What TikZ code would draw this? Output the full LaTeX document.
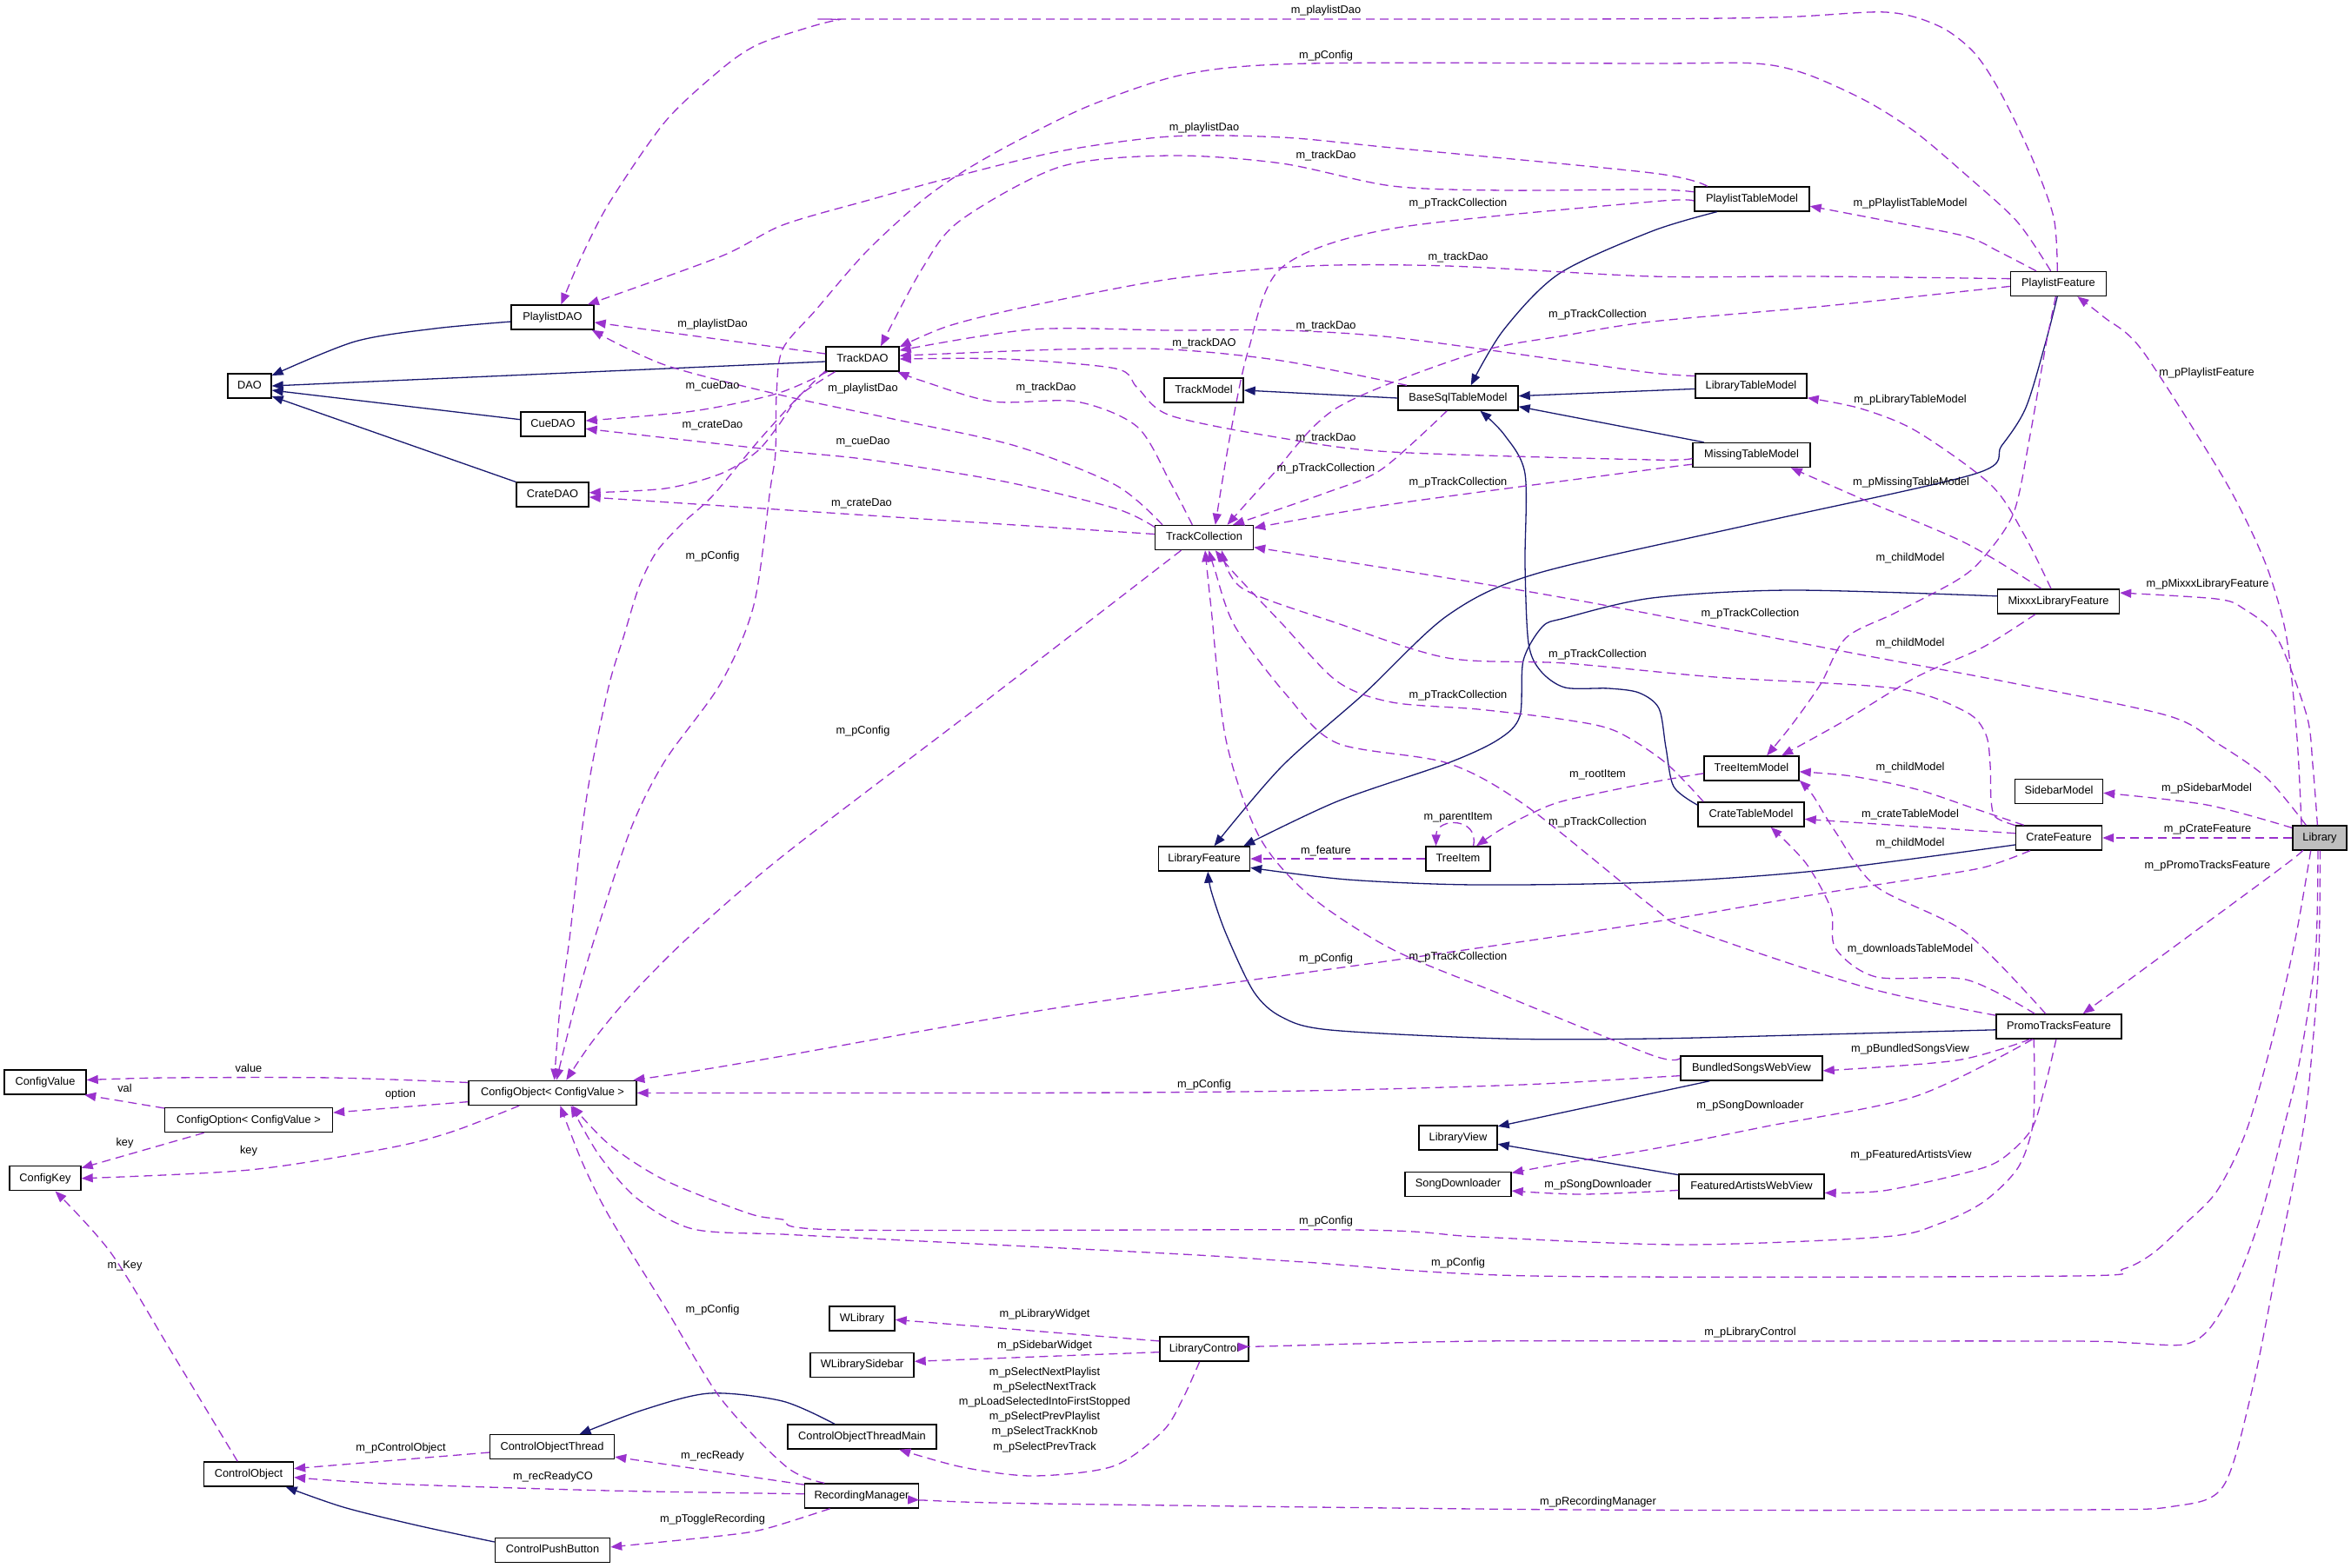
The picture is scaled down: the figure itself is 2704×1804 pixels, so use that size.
\documentclass[tikz,border=0pt]{standalone}
\usepackage{fontspec}
\newfontfamily\dxfont{Liberation Sans}
\newcommand\dxf{\dxfont\fontsize{12.8pt}{17.2pt}\selectfont}
\usetikzlibrary{arrows.meta}
\definecolor{dxnavy}{HTML}{191970}
\definecolor{dxpurp}{HTML}{9A32CD}
\definecolor{dxgray}{HTML}{BFBFBF}
\tikzset{
 dxcls/.style={draw=black, line width=1.4pt, fill=white, minimum height=28pt, inner sep=0pt, text height=9.5pt, text depth=2.7pt, font=\dxf},
 dxinh/.style={draw=dxnavy, line width=1.3pt, -{Triangle[length=13pt,width=10pt]}},
 dxuse/.style={draw=dxpurp, line width=1.3pt, dash pattern=on 10pt off 6pt, -{Triangle[length=13pt,width=10pt]}},
 dxlab/.style={font=\dxf, inner sep=0pt, text height=9.5pt, text depth=2.7pt},
}
\begin{document}
\begin{tikzpicture}[x=1pt,y=-1pt]
\fill[white] (0,0) rectangle (2704,1804);
\useasboundingbox (0,0) rectangle (2704,1804);
% ---------------- nodes
\node[dxcls, minimum width=50pt] (DAO) at (287,444) {DAO};
\node[dxcls, minimum width=95pt] (PlaylistDAO) at (635.5,365) {PlaylistDAO};
\node[dxcls, minimum width=74pt] (CueDAO) at (636,488) {CueDAO};
\node[dxcls, minimum width=83pt] (CrateDAO) at (635.5,569) {CrateDAO};
\node[dxcls, minimum width=84pt] (TrackDAO) at (992,413) {TrackDAO};
\node[dxcls, minimum width=91pt] (TrackModel) at (1384.5,449) {TrackModel};
\node[dxcls, minimum width=138pt] (BaseSql) at (1677,458) {BaseSqlTableModel};
\node[dxcls, minimum width=113pt] (TrackCollection) at (1385,618.5) {TrackCollection};
\node[dxcls, minimum width=132pt] (PlaylistTableModel) at (2015,229) {PlaylistTableModel};
\node[dxcls, minimum width=110pt] (PlaylistFeature) at (2367.5,326.5) {PlaylistFeature};
\node[dxcls, minimum width=128pt] (LibraryTableModel) at (2014,444) {LibraryTableModel};
\node[dxcls, minimum width=135pt] (MissingTableModel) at (2014.5,523.5) {MissingTableModel};
\node[dxcls, minimum width=140pt] (MixxxLibraryFeature) at (2367.5,692) {MixxxLibraryFeature};
\node[dxcls, minimum width=109pt] (TreeItemModel) at (2014.5,884) {TreeItemModel};
\node[dxcls, minimum width=101pt] (SidebarModel) at (2368,910.5) {SidebarModel};
\node[dxcls, minimum width=122pt] (CrateTableModel) at (2014,937) {CrateTableModel};
\node[dxcls, minimum width=99pt] (CrateFeature) at (2368,964) {CrateFeature};
\node[dxcls, minimum width=62pt, fill=dxgray] (Library) at (2668,964) {Library};
\node[dxcls, minimum width=144pt] (PromoTracksFeature) at (2368,1181) {PromoTracksFeature};
\node[dxcls, minimum width=163pt] (BundledSongsWebView) at (2014.5,1229) {BundledSongsWebView};
\node[dxcls, minimum width=105pt] (LibraryFeature) at (1385,988) {LibraryFeature};
\node[dxcls, minimum width=74pt] (TreeItem) at (1677,988) {TreeItem};
\node[dxcls, minimum width=90pt] (LibraryView) at (1677,1309) {LibraryView};
\node[dxcls, minimum width=122pt] (SongDownloader) at (1677,1362.5) {SongDownloader};
\node[dxcls, minimum width=167pt] (FeaturedArtistsWebView) at (2014.5,1365) {FeaturedArtistsWebView};
\node[dxcls, minimum width=75pt] (WLibrary) at (991.5,1517) {WLibrary};
\node[dxcls, minimum width=119pt] (WLibrarySidebar) at (991.5,1570.5) {WLibrarySidebar};
\node[dxcls, minimum width=102pt] (LibraryControl) at (1385,1552) {LibraryControl};
\node[dxcls, minimum width=171pt] (ControlObjectThreadMain) at (991.5,1653) {ControlObjectThreadMain};
\node[dxcls, minimum width=131pt] (RecordingManager) at (991,1721) {RecordingManager};
\node[dxcls, minimum width=94pt] (ConfigValue) at (52,1245) {ConfigValue};
\node[dxcls, minimum width=193pt] (ConfigObject) at (635.5,1257.4) {ConfigObject< ConfigValue >};
\node[dxcls, minimum width=193pt] (ConfigOption) at (286,1288.6) {ConfigOption< ConfigValue >};
\node[dxcls, minimum width=82pt] (ConfigKey) at (52,1355.7) {ConfigKey};
\node[dxcls, minimum width=103pt] (ControlObject) at (286,1696) {ControlObject};
\node[dxcls, minimum width=143pt] (ControlObjectThread) at (635,1664.7) {ControlObjectThread};
\node[dxcls, minimum width=132pt] (ControlPushButton) at (635.5,1783.4) {ControlPushButton};
% ---------------- inheritance
\draw[dxinh] plot[smooth] coordinates {(PlaylistDAO.186) (500,378) (408,393) (DAO.25)};
\draw[dxinh] (TrackDAO.184) -- (DAO.0);
\draw[dxinh] (CueDAO.172) -- (DAO.349);
\draw[dxinh] (CrateDAO.161) -- (DAO.335);
\draw[dxinh] (BaseSql.west) -- (TrackModel.east);
\draw[dxinh] plot[smooth] coordinates {(PlaylistTableModel.200) (1900,266) (1793,315) (1729,380) (BaseSql.45)};
\draw[dxinh] (LibraryTableModel.183) -- (BaseSql.2);
\draw[dxinh] (MissingTableModel.165) -- (BaseSql.352);
\draw[dxinh] plot[smooth] coordinates {(CrateTableModel.170) (1925,905) (1916,860) (1908,815) (1885,797) (1850,792) (1800,791) (1772,772) (1758,740) (1754,650) (1754,545) (1730,500) (BaseSql.330)};
\draw[dxinh] plot[smooth] coordinates {(PlaylistFeature.265) (2353,393) (2330,469) (2302,513) (2272,545) (2020,602) (1767,660) (1665,708) (1570,797) (1474,882) (LibraryFeature.52)};
\draw[dxinh] plot[smooth] coordinates {(MixxxLibraryFeature.175) (2059,679) (1900,688) (1800,711) (1774,721) (1752,760) (1748,824) (1723,851) (1665,878) (1538,922) (LibraryFeature.18)};
\draw[dxinh] plot[smooth] coordinates {(CrateFeature.189) (2088,1002) (1900,1015) (1697,1018) (1550,1012) (LibraryFeature.349)};
\draw[dxinh] plot[smooth] coordinates {(PromoTracksFeature.183) (2100,1190) (1900,1195) (1729,1195) (1530,1185) (1474,1170) (1442,1141) (1410,1074) (1393,1025) (LibraryFeature.286)};
\draw[dxinh] (BundledSongsWebView.197) -- (LibraryView.16);
\draw[dxinh] (FeaturedArtistsWebView.171) -- (LibraryView.351);
\draw[dxinh] plot[smooth] coordinates {(ControlObjectThreadMain.155) (900,1612) (816,1603) (740,1622) (ControlObjectThread.25)};
\draw[dxinh] plot[smooth] coordinates {(ControlPushButton.172) (480,1755) (395,1734) (ControlObject.341)};
% ---------------- usage
\draw[dxuse] plot[smooth] coordinates {(PlaylistFeature.95) (2362,250) (2336,179) (2300,105) (2270,60) (2230,30) (2169,14) (2042,20) (1800,22) (1000,22) (964,23) (925,33) (870,52) (829,80) (765,140) (701,233) (668,297) (PlaylistDAO.56)};
\draw[dxuse] plot[smooth] coordinates {(PlaylistFeature.121) (2320,255) (2261,201) (2203,152) (2146,116) (2077,85) (2019,73) (1900,73) (1506,73) (1365,85) (1257,120) (1174,160) (1110,196) (1059,232) (996,290) (938,357) (900,402) (893,455) (892,520) (886,562) (867,696) (829,786) (765,875) (727,950) (690,1060) (663,1150) (ConfigObject.73)};
\draw[dxuse] plot[smooth] coordinates {(TrackDAO.198) (915,460) (870,510) (820,570) (784,603) (755,635) (735,675) (718,730) (701,786) (682,875) (670,950) (655,1080) (644,1160) (ConfigObject.82)};
\draw[dxuse] plot[smooth] coordinates {(TrackCollection.209) (1120,817) (900,985) (790,1080) (721,1150) (680,1200) (ConfigObject.43)};
\draw[dxuse] plot[smooth] coordinates {(CrateFeature.204) (2300,992) (2261,1002) (2088,1029) (1900,1061) (1601,1105) (1219,1159) (900,1215) (800,1232) (ConfigObject.9)};
\draw[dxuse] plot[smooth] coordinates {(BundledSongsWebView.186) (1900,1239.5) (1750,1248) (1500,1255) (1200,1257.4) (ConfigObject.east)};
\draw[dxuse] plot[smooth] coordinates {(PromoTracksFeature.207) (2340,1250) (2337,1300) (2320,1345) (2281,1383) (2230,1408) (2166,1423) (1936,1432) (1700,1423) (1556,1415) (969,1415) (900,1403) (861,1396) (765,1358) (701,1317) (ConfigObject.327)};
\draw[dxuse] plot[smooth] coordinates {(Library.235) (2640,1080) (2615,1190) (2584,1300) (2550,1370) (2511,1410) (2476,1442) (2442,1460) (2384,1468) (1763,1468) (1500,1452) (1360,1443) (1000,1425) (900,1420) (797,1414) (733,1379) (689,1329) (ConfigObject.325)};
\draw[dxuse] plot[smooth] coordinates {(RecordingManager.161) (905,1688) (829,1609) (765,1504) (701,1400) (670,1338) (ConfigObject.301)};
\draw[dxuse] plot[smooth] coordinates {(Library.137) (2607,895) (2550,855) (2492,823) (2300,783) (2134,752) (1844,696) (1665,665) (TrackCollection.349)};
\draw[dxuse] plot[smooth] coordinates {(Library.145) (2642,850) (2630,734) (2610,660) (2584,600) (2549,536) (2463,402) (2420,365) (PlaylistFeature.326)};
\draw[dxuse] plot[smooth] coordinates {(Library.100) (2660,880) (2653,823) (2619,734) (2580,700) (2549,689) (MixxxLibraryFeature.8)};
\draw[dxuse] plot[smooth] coordinates {(Library.160) (2538,926) (SidebarModel.358)};
\draw[dxuse] (Library.west) -- (CrateFeature.east);
\draw[dxuse] plot[smooth] coordinates {(Library.216) (2619,1002) (PromoTracksFeature.28)};
\draw[dxuse] plot[smooth] coordinates {(Library.262) (2663,1100) (2645,1220) (2626,1300) (2600,1400) (2570,1480) (2540,1530) (2511,1547) (2450,1545) (2384,1543) (2005,1543) (1700,1543) (1452,1549) (LibraryControl.3)};
\draw[dxuse] plot[smooth] coordinates {(Library.272) (2667,1100) (2660,1200) (2649,1300) (2620,1450) (2590,1600) (2557,1710) (2500,1733) (2384,1737) (1820,1737) (1200,1730) (1061,1726) (RecordingManager.356)};
\draw[dxuse] plot[smooth] coordinates {(PlaylistFeature.150) (2300,290) (2261,272) (2175,255) (PlaylistTableModel.353)};
\draw[dxuse] plot[smooth] coordinates {(PlaylistFeature.174) (2088,318) (1900,318) (1665,306) (1506,306) (1346,321) (1180,353) (1091,375) (TrackDAO.18)};
\draw[dxuse] plot[smooth] coordinates {(PlaylistFeature.183) (2100,352) (1900,370) (1800,386) (1697,406) (1538,469) (1461,549) (TrackCollection.29)};
\draw[dxuse] plot[smooth] coordinates {(PlaylistFeature.258) (2353,397) (2335,500) (2316,590) (2280,643) (2250,668) (2180,705) (2123,734) (2094,787) (2060,835) (TreeItemModel.40)};
\draw[dxuse] plot[smooth] coordinates {(MixxxLibraryFeature.209) (2280,745) (2204,779) (2120,830) (TreeItemModel.23)};
\draw[dxuse] plot[smooth] coordinates {(MixxxLibraryFeature.120) (2328,615) (2290,558) (2204,496) (2140,470) (LibraryTableModel.348)};
\draw[dxuse] plot[smooth] coordinates {(MixxxLibraryFeature.143) (2261,625) (2146,576) (MissingTableModel.342)};
\draw[dxuse] plot[smooth] coordinates {(TreeItemModel.186) (1900,900) (1800,921) (1761,936) (1725,955) (TreeItem.35)};
\draw[dxuse] (TreeItem.40) .. controls (1702,940) and (1652,940) .. (TreeItem.150);
\draw[dxuse] (TreeItem.west) -- (LibraryFeature.east);
\draw[dxuse] plot[smooth] coordinates {(CrateFeature.160) (2270,930) (2204,908) (2130,893) (TreeItemModel.356)};
\draw[dxuse] (CrateFeature.174) -- (CrateTableModel.355);
\draw[dxuse] plot[smooth] coordinates {(CrateFeature.164) (2295,940) (2290,920) (2289,880) (2284,845) (2261,819) (2180,792) (1973,779) (1800,763) (1665,757) (1538,717) (1429,677) (TrackCollection.324)};
\draw[dxuse] plot[smooth] coordinates {(CrateTableModel.165) (1915,877) (1858,841) (1800,828) (1700,816) (1601,808) (1538,784) (1474,717) (1420,660) (TrackCollection.311)};
\draw[dxuse] plot[smooth] coordinates {(PromoTracksFeature.170) (2146,1136) (1944,1069) (1900,1043) (1755,927) (1665,878) (1538,855) (1480,800) (1420,720) (1397,655) (TrackCollection.290)};
\draw[dxuse] plot[smooth] coordinates {(BundledSongsWebView.172) (1900,1214) (1729,1145) (1601,1092) (1506,1030) (1448,962) (1410,851) (1393,700) (TrackCollection.274)};
\draw[dxuse] plot[smooth] coordinates {(PromoTracksFeature.136) (2261,1073) (2158,1020) (2111,957) (2085,915) (TreeItemModel.346)};
\draw[dxuse] plot[smooth] coordinates {(PromoTracksFeature.152) (2261,1127) (2158,1124) (2111,1091) (2106,1046) (2077,993) (CrateTableModel.327)};
\draw[dxuse] plot[smooth] coordinates {(PromoTracksFeature.204) (2250,1220) (BundledSongsWebView.358)};
\draw[dxuse] plot[smooth] coordinates {(PromoTracksFeature.206) (2204,1261) (2031,1296) (1900,1322) (1800,1338) (SongDownloader.12)};
\draw[dxuse] plot[smooth] coordinates {(PromoTracksFeature.258) (2352,1250) (2336,1300) (2300,1335) (2258,1350) (2166,1370) (FeaturedArtistsWebView.355)};
\draw[dxuse] plot[smooth] coordinates {(FeaturedArtistsWebView.183) (1820,1374) (SongDownloader.353)};
\draw[dxuse] plot[smooth] coordinates {(PlaylistTableModel.173) (1900,218) (1729,219) (1601,214) (1474,188) (1346,179) (1219,192) (1104,254) (1060,310) (TrackDAO.35)};
\draw[dxuse] plot[smooth] coordinates {(LibraryTableModel.170) (1900,429) (1800,415) (1601,388) (1474,380) (1346,380) (1187,379) (TrackDAO.13)};
\draw[dxuse] plot[smooth] coordinates {(BaseSql.166) (1474,415) (1346,402) (1219,402) (TrackDAO.5)};
\draw[dxuse] plot[smooth] coordinates {(MissingTableModel.183) (1900,529) (1601,520) (1474,504) (1346,478) (1308,446) (1283,424) (1155,413) (TrackDAO.0)};
\draw[dxuse] plot[smooth] coordinates {(TrackCollection.133) (1346,555) (1308,491) (1238,462) (1142,462) (1060,438) (TrackDAO.340)};
\draw[dxuse] (TrackDAO.172) -- (PlaylistDAO.353);
\draw[dxuse] plot[smooth] coordinates {(TrackCollection.163) (1283,558) (1168,513) (1027,482) (900,455) (765,420) (PlaylistDAO.342)};
\draw[dxuse] plot[smooth] coordinates {(TrackDAO.200) (893,453) (797,473) (CueDAO.6)};
\draw[dxuse] plot[smooth] coordinates {(TrackDAO.205) (920,455) (895,490) (870,520) (829,545) (765,562) (CrateDAO.3)};
\draw[dxuse] plot[smooth] coordinates {(TrackCollection.168) (1283,585) (1155,554) (1000,529) (893,518) (CueDAO.352)};
\draw[dxuse] (TrackCollection.176) -- (CrateDAO.356);
\draw[dxuse] plot[smooth] coordinates {(PlaylistTableModel.164) (1900,199) (1601,170) (1474,158) (1346,157) (1219,174) (1091,205) (1000,230) (900,259) (829,295) (PlaylistDAO.20)};
\draw[dxuse] plot[smooth] coordinates {(PlaylistTableModel.182) (1900,232) (1601,263) (1474,308) (1436,402) (1415,500) (TrackCollection.49)};
\draw[dxuse] plot[smooth] coordinates {(BaseSql.229) (1589,540) (1525,567) (TrackCollection.24)};
\draw[dxuse] plot[smooth] coordinates {(MissingTableModel.189) (1900,540) (1601,580) (TrackCollection.11)};
\draw[dxuse] plot[smooth] coordinates {(ConfigObject.173) (383,1240) (191,1240) (ConfigValue.3)};
\draw[dxuse] (ConfigObject.186) -- (ConfigOption.5);
\draw[dxuse] (ConfigOption.172) -- (ConfigValue.342);
\draw[dxuse] (ConfigOption.196) -- (ConfigKey.16);
\draw[dxuse] plot[smooth] coordinates {(ConfigObject.201) (520,1302) (446,1321) (287,1346) (ConfigKey.0)};
\draw[dxuse] plot[smooth] coordinates {(ControlObject.131) (200,1560) (128,1442) (ConfigKey.308)};
\draw[dxuse] (ControlObjectThread.185) -- (ControlObject.7);
\draw[dxuse] plot[smooth] coordinates {(RecordingManager.178) (701,1715) (446,1707) (ControlObject.356)};
\draw[dxuse] plot[smooth] coordinates {(RecordingManager.169) (829,1694) (ControlObjectThread.351)};
\draw[dxuse] plot[smooth] coordinates {(RecordingManager.202) (880,1759) (829,1767) (ControlPushButton.3)};
\draw[dxuse] (LibraryControl.170) -- (WLibrary.358);
\draw[dxuse] (LibraryControl.184) -- (WLibrarySidebar.4);
\draw[dxuse] plot[smooth] coordinates {(LibraryControl.250) (1360,1610) (1337,1647) (1280,1687) (1188,1698) (1107,1688) (ControlObjectThreadMain.341)};
% ---------------- labels
\node[dxlab] (l1) at (1525,12.5) {m\_playlistDao};
\node[dxlab] (l2) at (1525,64) {m\_pConfig};
\node[dxlab] (l3) at (1385,147) {m\_playlistDao};
\node[dxlab] (l4) at (1525,178.6) {m\_trackDao};
\node[dxlab] (l5) at (2197,234) {m\_pPlaylistTableModel};
\node[dxlab] (l6) at (1677,234) {m\_pTrackCollection};
\node[dxlab] (l7) at (1677,296) {m\_trackDao};
\node[dxlab] (l8) at (1837.5,362.5) {m\_pTrackCollection};
\node[dxlab] (l9) at (819.5,372.8) {m\_playlistDao};
\node[dxlab] (l10) at (1525,374.6) {m\_trackDao};
\node[dxlab] (l11) at (1385,394.6) {m\_trackDAO};
\node[dxlab] (l12) at (2538,428.6) {m\_pPlaylistFeature};
\node[dxlab] (l13) at (819.5,443.8) {m\_cueDao};
\node[dxlab] (l14) at (992.5,447) {m\_playlistDao};
\node[dxlab] (l15) at (1203,446) {m\_trackDao};
\node[dxlab] (l16) at (2197,460) {m\_pLibraryTableModel};
\node[dxlab] (l17) at (819.5,488.8) {m\_crateDao};
\node[dxlab] (l18) at (1525,504.5) {m\_trackDao};
\node[dxlab] (l19) at (992.5,508.5) {m\_cueDao};
\node[dxlab] (l20) at (1525,539) {m\_pTrackCollection};
\node[dxlab] (l21) at (1677,555) {m\_pTrackCollection};
\node[dxlab] (l22) at (2198,555) {m\_pMissingTableModel};
\node[dxlab] (l23) at (991,579) {m\_crateDao};
\node[dxlab] (l24) at (819.5,640) {m\_pConfig};
\node[dxlab] (l25) at (2197,642) {m\_childModel};
\node[dxlab] (l26) at (2539,672) {m\_pMixxxLibraryFeature};
\node[dxlab] (l27) at (2013,706) {m\_pTrackCollection};
\node[dxlab] (l28) at (2197,740) {m\_childModel};
\node[dxlab] (l29) at (1837.5,752.7) {m\_pTrackCollection};
\node[dxlab] (l30) at (1677,799.6) {m\_pTrackCollection};
\node[dxlab] (l31) at (992.5,841) {m\_pConfig};
\node[dxlab] (l32) at (2197,883) {m\_childModel};
\node[dxlab] (l33) at (1837.5,891) {m\_rootItem};
\node[dxlab] (l34) at (2538,907) {m\_pSidebarModel};
\node[dxlab] (l35) at (2197,936.6) {m\_crateTableModel};
\node[dxlab] (l36) at (1677,940) {m\_parentItem};
\node[dxlab] (l37) at (1837.5,946.4) {m\_pTrackCollection};
\node[dxlab] (l38) at (2539,954.5) {m\_pCrateFeature};
\node[dxlab] (l39) at (2197,970.5) {m\_childModel};
\node[dxlab] (l40) at (1525,978.6) {m\_feature};
\node[dxlab] (l41) at (2539,996.4) {m\_pPromoTracksFeature};
\node[dxlab] (l42) at (2197,1092) {m\_downloadsTableModel};
\node[dxlab] (l43) at (1525,1102.7) {m\_pConfig};
\node[dxlab] (l44) at (1677,1101) {m\_pTrackCollection};
\node[dxlab] (l45) at (2197,1207) {m\_pBundledSongsView};
\node[dxlab] (l46) at (1385,1248) {m\_pConfig};
\node[dxlab] (l47) at (2013,1272) {m\_pSongDownloader};
\node[dxlab] (l48) at (2198,1329) {m\_pFeaturedArtistsView};
\node[dxlab] (l49) at (1838,1362.7) {m\_pSongDownloader};
\node[dxlab] (l50) at (1525,1405) {m\_pConfig};
\node[dxlab] (l51) at (1677,1453) {m\_pConfig};
\node[dxlab] (l52) at (1201.5,1512.3) {m\_pLibraryWidget};
\node[dxlab] (l53) at (1201.5,1547.7) {m\_pSidebarWidget};
\node[font=\dxf, inner sep=0pt, align=center] (l54) at (1201.5,1621.7) {m\_pSelectNextPlaylist\\m\_pSelectNextTrack\\m\_pLoadSelectedIntoFirstStopped\\m\_pSelectPrevPlaylist\\m\_pSelectTrackKnob\\m\_pSelectPrevTrack};
\node[dxlab] (l55) at (2013,1532.7) {m\_pLibraryControl};
\node[dxlab] (l56) at (1838,1727.7) {m\_pRecordingManager};
\node[dxlab] (l57) at (286,1230.5) {value};
\node[dxlab] (l58) at (143.5,1252.6) {val};
\node[dxlab] (l59) at (460.5,1259) {option};
\node[dxlab] (l60) at (143.5,1314.7) {key};
\node[dxlab] (l61) at (286,1324) {key};
\node[dxlab] (l62) at (143.5,1455.7) {m\_Key};
\node[dxlab] (l63) at (819.5,1506.6) {m\_pConfig};
\node[dxlab] (l64) at (461,1666) {m\_pControlObject};
\node[dxlab] (l65) at (819.5,1674.7) {m\_recReady};
\node[dxlab] (l66) at (636,1699) {m\_recReadyCO};
\node[dxlab] (l67) at (819.5,1747.7) {m\_pToggleRecording};
\end{tikzpicture}
\end{document}
